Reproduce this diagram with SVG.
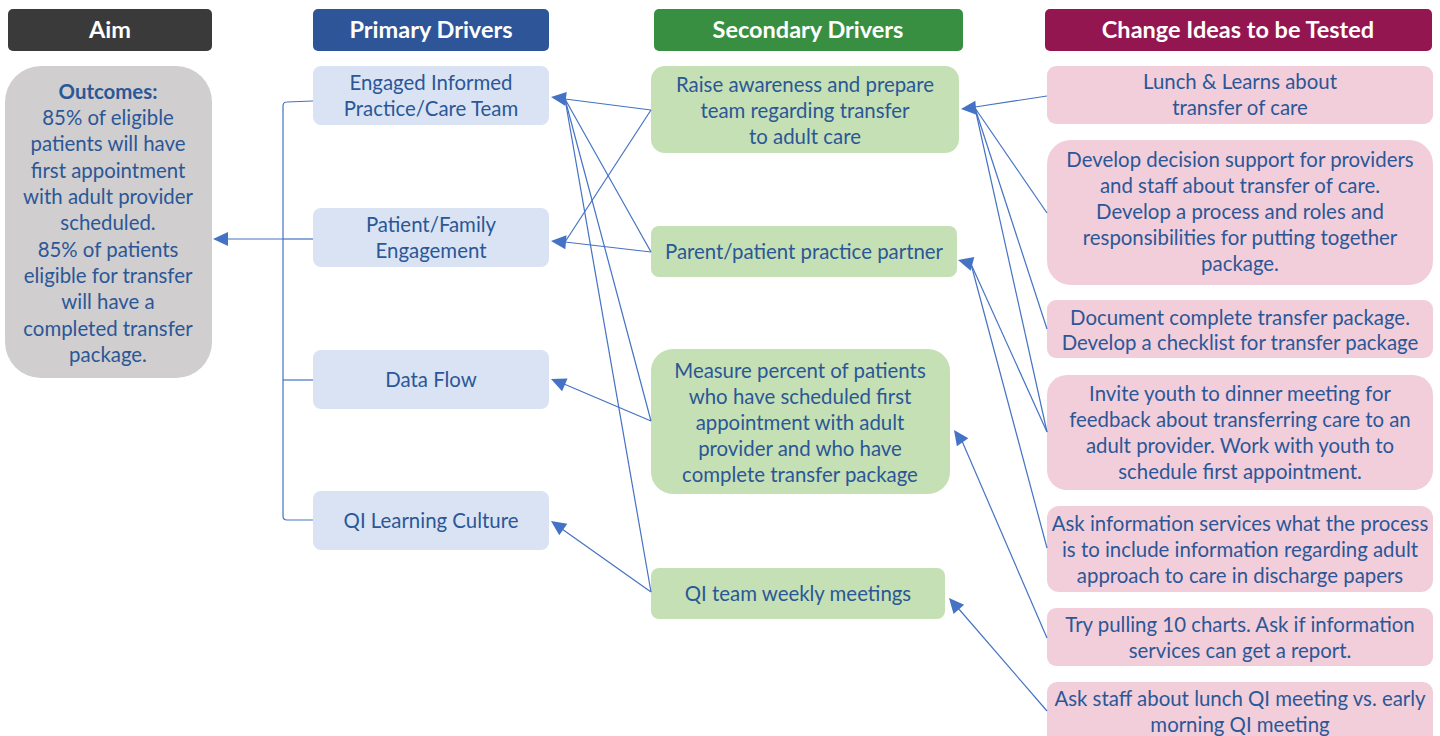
<svg xmlns="http://www.w3.org/2000/svg" xmlns:xlink="http://www.w3.org/1999/xlink" width="1440" height="736" viewBox="0 0 1440 736">
<style>
text{font-family:Lato,"Open Sans","Liberation Sans",sans-serif;font-size:20.4px;fill:#2B5797;text-anchor:middle}
.hd text{fill:#fff;font-weight:bold;font-size:23.5px}
.aim{fill:#D0CECE}
.pri{fill:#DAE3F3}
.sec{fill:#C5E0B4}
.chg{fill:#F2CEDB}
.cn line,.cn path{stroke:#4472C4;stroke-width:1.2;fill:none}
.ah{fill:#4472C4}
</style>
<defs>
<path id="ah" class="ah" d="M0,0 L15,-7 L15,7 Z"/>
</defs>
<rect width="1440" height="736" fill="#fff"/>
<g class="hd" id="headers">
<g id="h-aim"><rect x="8" y="9" width="204" height="42" rx="5" fill="#3A3A3A"/><text x="110" y="38">Aim</text></g>
<g id="h-pri"><rect x="313" y="9" width="236" height="42" rx="5" fill="#2E5597"/><text x="431" y="38">Primary Drivers</text></g>
<g id="h-sec"><rect x="654" y="9" width="309" height="42" rx="5" fill="#388F42"/><text x="808" y="38">Secondary Drivers</text></g>
<g id="h-chg"><rect x="1045" y="9" width="387" height="42" rx="5" fill="#941651"/><text x="1238" y="38">Change Ideas to be Tested</text></g>
</g>
<g id="aim-box">
<rect class="aim" x="5" y="66" width="207" height="312" rx="36"/>
<text x="108" y="99" font-weight="bold">Outcomes:</text>
<text x="108" y="125">85% of eligible</text>
<text x="108" y="151">patients will have</text>
<text x="108" y="178">first appointment</text>
<text x="108" y="204">with adult provider</text>
<text x="108" y="230">scheduled.</text>
<text x="108" y="257">85% of patients</text>
<text x="108" y="283">eligible for transfer</text>
<text x="108" y="309">will have a</text>
<text x="108" y="336">completed transfer</text>
<text x="108" y="362">package.</text>
</g>
<g id="p-engaged"><rect class="pri" x="313" y="66" width="236" height="59" rx="8"/><text x="431" y="90">Engaged Informed</text><text x="431" y="116">Practice/Care Team</text></g>
<g id="p-patient"><rect class="pri" x="313" y="208" width="236" height="59" rx="8"/><text x="431" y="232">Patient/Family</text><text x="431" y="258">Engagement</text></g>
<g id="p-data"><rect class="pri" x="313" y="350" width="236" height="59" rx="8"/><text x="431" y="387">Data Flow</text></g>
<g id="p-qi"><rect class="pri" x="313" y="491" width="236" height="59" rx="8"/><text x="431" y="528">QI Learning Culture</text></g>
<g id="s-raise"><rect class="sec" x="651" y="66" width="308" height="87" rx="14"/><text x="805" y="92">Raise awareness and prepare</text><text x="805" y="118">team regarding transfer</text><text x="805" y="144">to adult care</text></g>
<g id="s-parent"><rect class="sec" x="651" y="226" width="306" height="51" rx="8"/><text x="804" y="259">Parent/patient practice partner</text></g>
<g id="s-measure"><rect class="sec" x="651" y="349" width="299" height="145" rx="22"/><text x="800" y="378">Measure percent of patients</text><text x="800" y="404">who have scheduled first</text><text x="800" y="430">appointment with adult</text><text x="800" y="456">provider and who have</text><text x="800" y="482">complete transfer package</text></g>
<g id="s-qiweekly"><rect class="sec" x="651" y="568" width="294" height="51" rx="8"/><text x="798" y="601">QI team weekly meetings</text></g>
<g id="c-lunch"><rect class="chg" x="1047" y="66" width="386" height="58" rx="9"/><text x="1240" y="89">Lunch &amp; Learns about</text><text x="1240" y="115">transfer of care</text></g>
<g id="c-develop"><rect class="chg" x="1047" y="140" width="386" height="145" rx="24"/><text x="1240" y="167">Develop decision support for providers</text><text x="1240" y="193">and staff about transfer of care.</text><text x="1240" y="219">Develop a process and roles and</text><text x="1240" y="245">responsibilities for putting together</text><text x="1240" y="271">package.</text></g>
<g id="c-document"><rect class="chg" x="1047" y="300" width="386" height="58" rx="9"/><text x="1240" y="325">Document complete transfer package.</text><text x="1240" y="350">Develop a checklist for transfer package</text></g>
<g id="c-invite"><rect class="chg" x="1047" y="375" width="386" height="115" rx="20"/><text x="1240" y="401">Invite youth to dinner meeting for</text><text x="1240" y="427">feedback about transferring care to an</text><text x="1240" y="453">adult provider. Work with youth to</text><text x="1240" y="479">schedule first appointment.</text></g>
<g id="c-askinfo"><rect class="chg" x="1047" y="506" width="386" height="86" rx="12"/><text x="1240" y="531">Ask information services what the process</text><text x="1240" y="557">is to include information regarding adult</text><text x="1240" y="583">approach to care in discharge papers</text></g>
<g id="c-try"><rect class="chg" x="1047" y="608" width="386" height="58" rx="9"/><text x="1240" y="632">Try pulling 10 charts. Ask if information</text><text x="1240" y="658">services can get a report.</text></g>
<g id="c-askstaff"><rect class="chg" x="1047" y="682" width="386" height="62" rx="10"/><text x="1240" y="706">Ask staff about lunch QI meeting vs. early</text><text x="1240" y="732">morning QI meeting</text></g>
<g class="cn" id="connectors">
<path d="M313,101 L287,102 Q283,102 283,106 L283,516 Q283,520 287,520 L313,520"/>
<line x1="283" y1="239" x2="313" y2="239"/>
<line x1="283" y1="380" x2="313" y2="380"/>
<line x1="283" y1="239" x2="226" y2="239"/>
<use href="#ah" transform="translate(213,239)"/>
<line x1="651" y1="110" x2="565" y2="99"/>
<line x1="651" y1="252" x2="565" y2="99"/>
<line x1="651" y1="421" x2="565" y2="99"/>
<line x1="651" y1="592" x2="565" y2="99"/>
<use href="#ah" transform="translate(551,97) rotate(7)"/>
<line x1="651" y1="110" x2="565" y2="242"/>
<line x1="651" y1="252" x2="565" y2="242"/>
<use href="#ah" transform="translate(551,241) rotate(5)"/>
<line x1="651" y1="421" x2="564" y2="384"/>
<use href="#ah" transform="translate(551,379) rotate(23)"/>
<line x1="651" y1="592" x2="562" y2="529"/>
<use href="#ah" transform="translate(551,521) rotate(35)"/>
<line x1="1047" y1="96" x2="975" y2="107"/>
<line x1="1047" y1="213" x2="975" y2="108"/>
<line x1="1047" y1="329" x2="975" y2="108"/>
<line x1="1047" y1="432" x2="975" y2="108"/>
<use href="#ah" transform="translate(961,109) rotate(-5)"/>
<line x1="1047" y1="432" x2="971" y2="264"/>
<line x1="1047" y1="548" x2="971" y2="264"/>
<use href="#ah" transform="translate(958,260) rotate(15)"/>
<line x1="1047" y1="638" x2="962" y2="441"/>
<use href="#ah" transform="translate(954,430) rotate(55)"/>
<line x1="1047" y1="711" x2="958" y2="608"/>
<use href="#ah" transform="translate(949,598) rotate(49)"/>
</g>
</svg>
